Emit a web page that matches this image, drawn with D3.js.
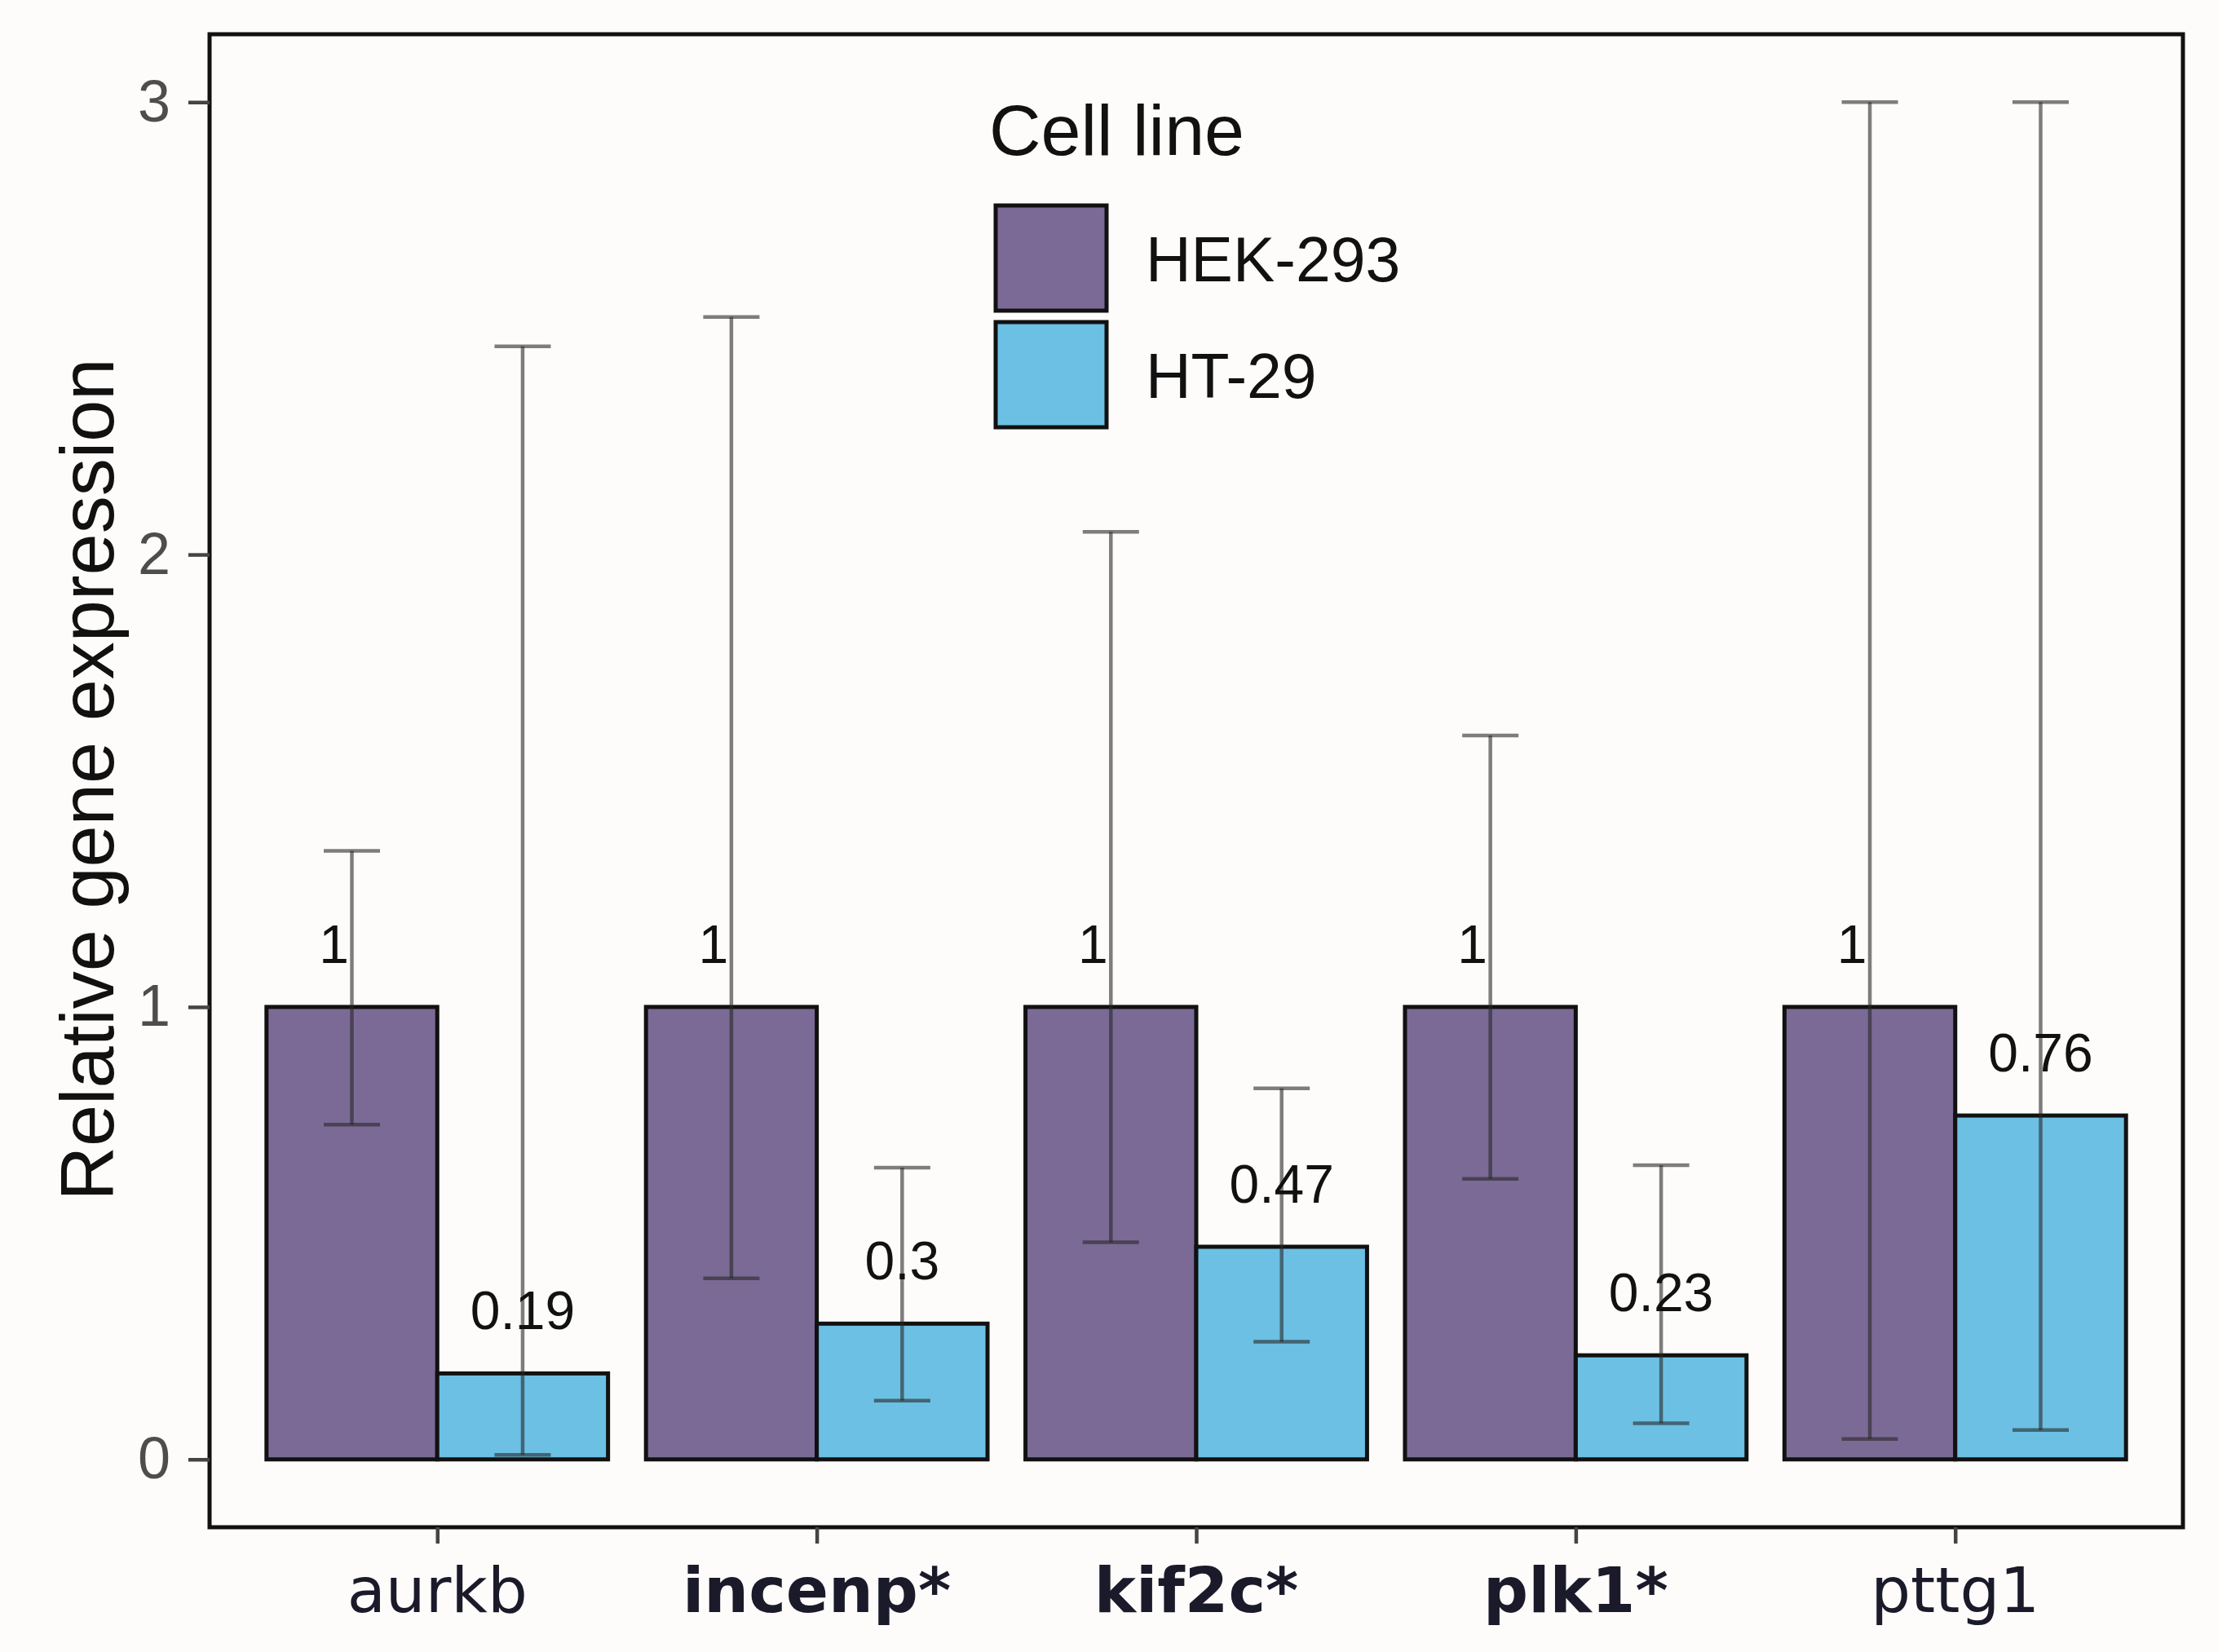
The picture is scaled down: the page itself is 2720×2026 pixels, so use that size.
<!DOCTYPE html>
<html>
<head>
<meta charset="utf-8">
<script src="https://cdn.jsdelivr.net/npm/d3@7"></script>
<style>
  body { margin: 0; background: #fdfcfa; }
</style>
</head>
<body>
<script>
// Data
const genes = ["aurkb", "incenp*", "kif2c*", "plk1*", "pttg1"];
const cellLines = ["HEK-293", "HT-29"];
const hekMean = [1, 1, 1, 1, 1];
const htMean = [0.19, 0.3, 0.47, 0.23, 0.76];
const hekLow = [0.74, 0.40, 0.48, 0.62, 0.045];
const hekHigh = [1.345, 2.525, 2.05, 1.60, 3.0];
const htLow = [0.01, 0.13, 0.26, 0.08, 0.065];
const htHigh = [2.46, 0.645, 0.82, 0.65, 3.0];
const yTicks = [0, 1, 2, 3];
const colors = ["#7b6a96", "#6cc0e3"];

const W = 2720, H = 2026;
const frame = { left: 257, top: 42, right: 2677, bottom: 1873 };

const svg = d3.select("body").append("svg")
    .attr("width", W)
    .attr("height", H)
    .style("background", "#fdfcfa");

// ggplot style discrete scale: categories at 1..n, expanded by 0.6
const x = d3.scaleLinear()
    .domain([0.4, genes.length + 0.6])
    .range([frame.left, frame.right]);
const y = d3.scaleLinear()
    .domain([-0.15, 3.15])
    .range([frame.bottom, frame.top]);

const barW = (x(1) - x(0)) * 0.45;

// long table for the bars
const rows = [];
genes.forEach((g, i) => {
  rows.push({ gene: g, i: i, s: 0, mean: hekMean[i], lo: hekLow[i], hi: hekHigh[i] });
  rows.push({ gene: g, i: i, s: 1, mean: htMean[i], lo: htLow[i], hi: htHigh[i] });
});
const barX = d => x(d.i + 1) + (d.s === 0 ? -barW : 0);
const barCx = d => barX(d) + barW / 2;

// bars
svg.append("g")
  .selectAll("rect")
  .data(rows)
  .join("rect")
    .attr("x", barX)
    .attr("y", d => y(d.mean))
    .attr("width", barW)
    .attr("height", d => y(0) - y(d.mean))
    .attr("fill", d => colors[d.s])
    .attr("stroke", "#111")
    .attr("stroke-width", 5);

// error bars (drawn over the bars, semi transparent)
const eb = svg.append("g")
    .attr("stroke", "#282828")
    .attr("stroke-opacity", 0.6)
    .attr("stroke-width", 4.5);
eb.selectAll("line.v")
  .data(rows)
  .join("line")
    .attr("class", "v")
    .attr("x1", barCx).attr("x2", barCx)
    .attr("y1", d => y(d.lo)).attr("y2", d => y(d.hi));
const capW = 69;
["lo", "hi"].forEach(k => {
  eb.selectAll("line." + k)
    .data(rows)
    .join("line")
      .attr("class", k)
      .attr("x1", d => barCx(d) - capW / 2)
      .attr("x2", d => barCx(d) + capW / 2)
      .attr("y1", d => y(d[k])).attr("y2", d => y(d[k]));
});

// value labels
svg.append("g")
    .attr("font-family", "'Liberation Sans', Arial, sans-serif")
    .attr("font-size", 66)
    .attr("text-anchor", "middle")
    .attr("fill", "#111")
  .selectAll("text")
  .data(rows)
  .join("text")
    .attr("x", d => barCx(d) + (d.s === 0 ? -22 : 0))
    .attr("y", d => y(d.mean) - 54)
    .text(d => d3.format("~g")(d.mean));

// panel border
svg.append("rect")
    .attr("x", frame.left)
    .attr("y", frame.top)
    .attr("width", frame.right - frame.left)
    .attr("height", frame.bottom - frame.top)
    .attr("fill", "none")
    .attr("stroke", "#111")
    .attr("stroke-width", 5);

// y axis
const yAxis = svg.append("g")
    .attr("transform", `translate(${frame.left},0)`)
    .call(d3.axisLeft(y).tickValues(yTicks).tickSize(26).tickPadding(22).tickFormat(d3.format("d")));
yAxis.select(".domain").remove();
yAxis.selectAll(".tick line").attr("stroke", "#444").attr("stroke-width", 4.5);
yAxis.selectAll(".tick text")
    .attr("font-family", "'Liberation Sans', Arial, sans-serif")
    .attr("font-size", 72)
    .attr("fill", "#4d4d4d");

// x axis
const xAxis = svg.append("g")
    .attr("transform", `translate(0,${frame.bottom})`)
    .call(d3.axisBottom(x).tickValues(genes.map((g, i) => i + 1)).tickSize(20).tickFormat(() => ""));
xAxis.select(".domain").remove();
xAxis.selectAll(".tick line").attr("stroke", "#444").attr("stroke-width", 4.5);

svg.append("g")
    .attr("font-family", "'DejaVu Sans', Verdana, sans-serif")
    .attr("font-size", 77)
    .attr("text-anchor", "middle")
    .attr("fill", "#1a1a2a")
  .selectAll("text")
  .data(genes)
  .join("text")
    .attr("x", (g, i) => x(i + 1))
    .attr("y", 1977)
    .attr("font-weight", g => g.endsWith("*") ? "bold" : "normal")
    .text(g => g);

// y axis title
svg.append("text")
    .attr("transform", "translate(139,956) rotate(-90)")
    .attr("font-family", "'Liberation Sans', Arial, sans-serif")
    .attr("font-size", 92)
    .attr("text-anchor", "middle")
    .attr("fill", "#111")
    .text("Relative gene expression");

// legend
const legend = svg.append("g")
    .attr("font-family", "'Liberation Sans', Arial, sans-serif")
    .attr("fill", "#111");
legend.append("text")
    .attr("x", 1213)
    .attr("y", 190)
    .attr("font-size", 88)
    .text("Cell line");
const keyX = 1221, keyY = 252, keyW = 136, keyH = 129, keyGap = 14;
const item = legend.selectAll("g.item")
  .data(cellLines)
  .join("g")
    .attr("class", "item")
    .attr("transform", (d, i) => `translate(${keyX},${keyY + i * (keyH + keyGap)})`);
item.append("rect")
    .attr("width", keyW)
    .attr("height", keyH)
    .attr("fill", (d, i) => colors[i])
    .attr("stroke", "#111")
    .attr("stroke-width", 5);
item.append("text")
    .attr("x", 184)
    .attr("y", keyH / 2 + 28)
    .attr("font-size", 77)
    .text(d => d);
</script>
</body>
</html>
